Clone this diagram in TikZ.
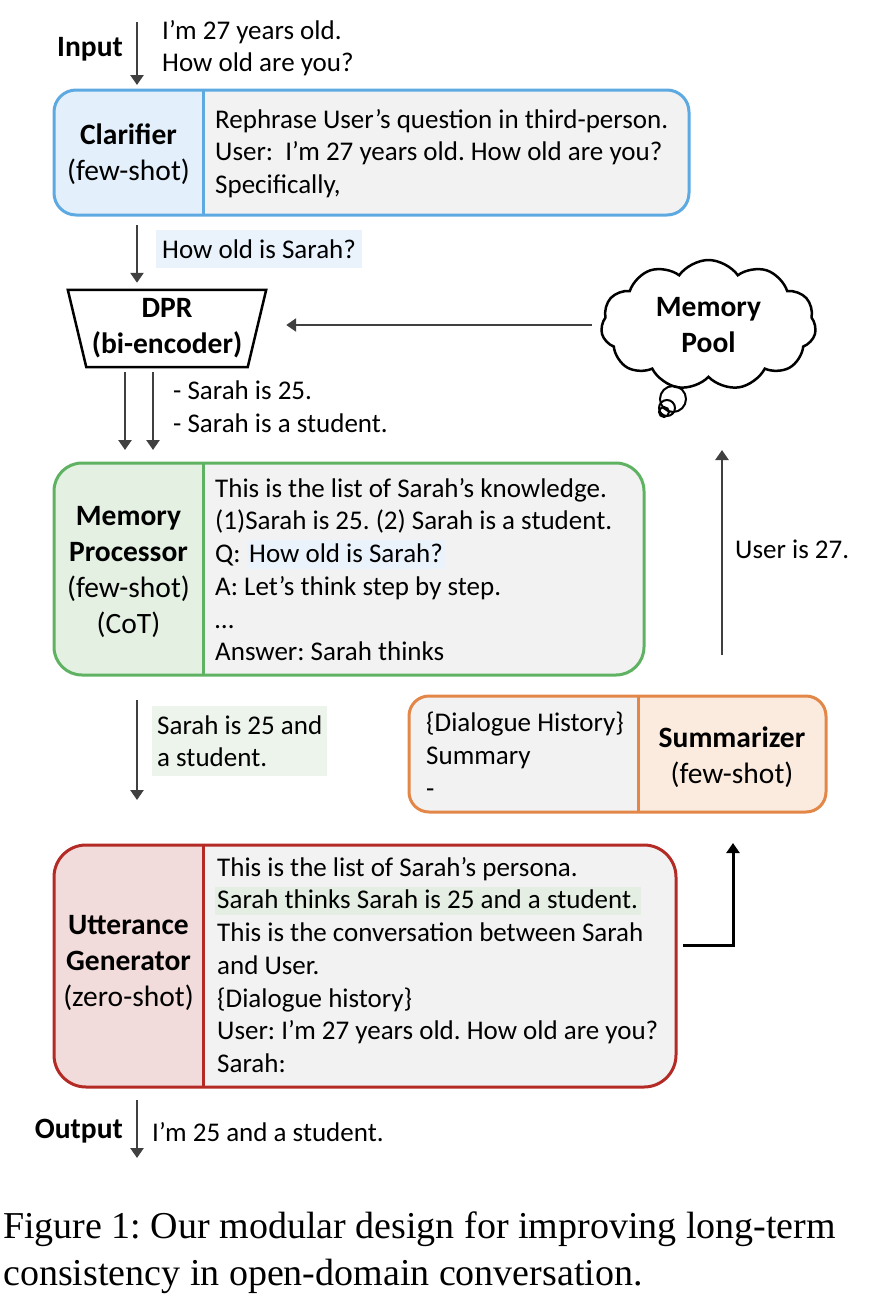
\documentclass[tikz,border=0pt]{standalone}
\usepackage{fontspec}
\setmainfont{Carlito}
\newfontfamily\capfont{Liberation Serif}
\usepackage{tikz}
\usetikzlibrary{positioning,arrows.meta,shapes.symbols,calc,backgrounds}
\definecolor{clarcol}{RGB}{93,170,226}
\definecolor{clarfill}{RGB}{227,240,251}
\definecolor{qfill}{RGB}{234,243,251}
\definecolor{mpcol}{RGB}{95,178,98}
\definecolor{mpfill}{RGB}{227,240,226}
\definecolor{afill}{RGB}{236,244,235}
\definecolor{pfill}{RGB}{228,238,227}
\definecolor{sumcol}{RGB}{226,135,72}
\definecolor{sumfill}{RGB}{251,234,222}
\definecolor{ugcol}{RGB}{180,42,36}
\definecolor{ugfill}{RGB}{242,220,219}
\definecolor{panel}{RGB}{242,242,242}
\definecolor{arrcol}{RGB}{64,64,64}
\newcommand{\hlq}[2]{{\setlength{\fboxsep}{2.5pt}\colorbox{#1}{\vphantom{(}#2}}}
\frenchspacing

\begin{document}
\begin{tikzpicture}[x=1pt, y=-1pt,
  modbox/.style={draw=#1, line width=3pt, anchor=north west, inner sep=0pt, outer sep=0pt},
  lbl/.style={align=center, inner sep=0pt, font=\fontsize{29.5}{36}\selectfont},
  prompt/.style={anchor=north west, align=left, inner sep=0pt,
                 font=\fontsize{27}{32.7}\selectfont, execute at begin node=\rule{0pt}{24pt}},
  note/.style={inner sep=0pt, font=\fontsize{27}{32.7}\selectfont},
  hlbox/.style={fill=#1, inner xsep=6pt, inner ysep=0pt, align=left,
                font=\fontsize{27}{32.7}\selectfont},
  arr/.style={draw=arrcol, line width=2.8pt, -{Triangle[length=10pt,width=13pt]}},
  arrk/.style={draw=black, line width=3pt, -{Triangle[length=10pt,width=13pt]}},
  pool/.style={cloud, cloud puffs=11, cloud puff arc=110, aspect=1.7, draw,
               line width=2.5pt, minimum width=215pt, minimum height=130pt,
               inner sep=0pt, align=center, font=\fontsize{29.5}{36}\selectfont\bfseries},
]
\useasboundingbox (0,0) rectangle (874,1294);

\coordinate (axis)   at (137,0);
\coordinate (split)  at (203,0);
\coordinate (ssplit) at (638,0);

% module frames
\node[modbox=clarcol, rounded corners=22pt, minimum width=635pt, minimum height=125pt] (clarbox) at (54,90) {};
\node[modbox=mpcol,   rounded corners=28pt, minimum width=590pt, minimum height=212pt] (mpbox)   at (54,463) {};
\node[modbox=ugcol,   rounded corners=32pt, minimum width=622pt, minimum height=242pt] (ugbox)   at (54,845) {};
\node[modbox=sumcol,  rounded corners=20pt, minimum width=417pt, minimum height=116pt] (sumbox)  at (409,696) {};

\begin{scope}[on background layer]
  \foreach \b/\r in {clarbox/22pt, mpbox/28pt, ugbox/32pt, sumbox/20pt}
    \fill[panel, rounded corners=\r] (\b.south west) rectangle (\b.north east);
  \foreach \b/\r/\c in {clarbox/22pt/clarfill, mpbox/28pt/mpfill, ugbox/32pt/ugfill}{
    \begin{scope}
      \clip[rounded corners=\r] (\b.south west) rectangle (\b.north east);
      \fill[\c] (\b.south west) rectangle (split |- \b.north);
    \end{scope}
  }
  \begin{scope}
    \clip[rounded corners=20pt] (sumbox.south west) rectangle (sumbox.north east);
    \fill[sumfill] (ssplit |- sumbox.south) rectangle (sumbox.north east);
  \end{scope}
\end{scope}

\draw[clarcol, line width=3pt] (split |- clarbox.north) -- (split |- clarbox.south);
\draw[mpcol,   line width=3pt] (split |- mpbox.north)   -- (split |- mpbox.south);
\draw[ugcol,   line width=3pt] (split |- ugbox.north)   -- (split |- ugbox.south);
\draw[sumcol,  line width=3pt] (ssplit |- sumbox.north) -- (ssplit |- sumbox.south);

% labels
\node[lbl] (clarlbl) at (128.5,154)   {\textbf{Clarifier}\\(few-shot)};
\node[lbl] (mplbl)   at (128.5,571.5) {\textbf{Memory}\\\textbf{Processor}\\(few-shot)\\(CoT)};
\node[lbl] (uglbl)   at (128.5,962.5) {\textbf{Utterance}\\\textbf{Generator}\\(zero-shot)};
\node[lbl] (sumlbl)  at (732,757)     {\textbf{Summarizer}\\(few-shot)};

% prompts
\node[prompt] (clartxt) at (215,109) {Rephrase User’s question in third-person.\\
  User:~ I’m 27 years old. How old are you?\\Specifically,};
\node[prompt] (mptxt) at (215,478) {This is the list of Sarah’s knowledge.\\
  (1)Sarah is 25. (2) Sarah is a student.\\
  Q: \hlq{qfill}{How old is Sarah?}\\
  A: Let’s think step by step.\\
  …\\
  Answer: Sarah thinks};
\node[prompt] (ugtxt) at (217,857) {This is the list of Sarah’s persona.\\
  \hspace*{-2.5pt}\hlq{pfill}{Sarah thinks Sarah is 25 and a student.}\\
  This is the conversation between Sarah\\
  and User.\\
  \{Dialogue history\}\\
  User: I’m 27 years old. How old are you?\\
  Sarah:};
\node[prompt] (sumtxt) at (426,712) {\{Dialogue History\}\\Summary\\-};

% DPR
\node[lbl, minimum width=198pt, minimum height=77pt, font=\fontsize{29.5}{36}\selectfont\bfseries]
  (dpr) at (167,328.5) {DPR\\(bi-encoder)};
\draw[line width=2.5pt] (dpr.north west) -- (dpr.north east)
  -- ($(dpr.south east)+(-18.5,0)$) -- ($(dpr.south west)+(18.5,0)$) -- cycle;

% memory pool
\node[pool] (pool) at (708.5,325) {Memory\\Pool};
\draw[line width=2pt] (673,399) circle (13pt);
\draw[line width=2pt] (667,408) circle (8pt);
\draw[line width=2pt] (664,412) circle (5pt);

% input / output
\coordinate (inp)  at (137,22);
\coordinate (outp) at (137,1158);
\node[lbl, anchor=east, font=\fontsize{29.5}{36}\selectfont\bfseries] (inlbl)  at (123,49)   {Input};
\node[lbl, anchor=east, font=\fontsize{29.5}{36}\selectfont\bfseries] (outlbl) at (123,1131) {Output};
\node[prompt] (intxt) at (162,20) {I’m 27 years old.\\How old are you?};
\node[note, anchor=base west] (outtxt) at (152,1141) {I’m 25 and a student.};

% intermediate results
\node[hlbox=qfill, anchor=west, minimum height=38pt] (query) at (156,249) {How old is Sarah?};
\node[prompt] (facts) at (173,381) {- Sarah is 25.\\- Sarah is a student.};
\node[hlbox=afill, anchor=north west, inner xsep=5pt, minimum width=173pt, minimum height=70pt]
  (answer) at (152,706) {Sarah is 25 and\\a student.};

% connectors
\draw[arr, shorten >=5pt] (inp) -- (axis |- clarbox.north);
\draw[arr, shorten <=10pt, shorten >=7pt] (axis |- clarbox.south) -- (axis |- dpr.north);
\coordinate (r1) at (125,372);
\coordinate (r2) at (153,372);
\foreach \c in {r1,r2}
  \draw[arr, shorten >=13pt] (\c) -- (\c |- mpbox.north);
\draw[arr, shorten <=25pt, shorten >=45pt] (axis |- mpbox.south) -- (axis |- ugbox.north);
\draw[arr, shorten <=13pt] (axis |- ugbox.south) -- (outp);
\draw[arr, shorten <=9pt, shorten >=20pt] (pool.west) -- (pool.west -| dpr.east);

\coordinate (upS) at (722,655);
\coordinate (upE) at (722,450);
\draw[arr] (upS) -- (upE);
\node[note, anchor=base west] (userage) at (735,558) {User is 27.};

\coordinate (ugout) at (683,945);
\coordinate (sumin) at (733,843);
\draw[arrk] (ugout) -| (sumin);

% caption
\node[anchor=north west, align=left, inner sep=0pt, font=\capfont\fontsize{38}{47}\selectfont]
  (caption) at (3,1211) {\rule{0pt}{27pt}Figure 1: Our modular design for improving long-term\\
  consistency in open-domain conversation.};
\end{tikzpicture}
\end{document}
